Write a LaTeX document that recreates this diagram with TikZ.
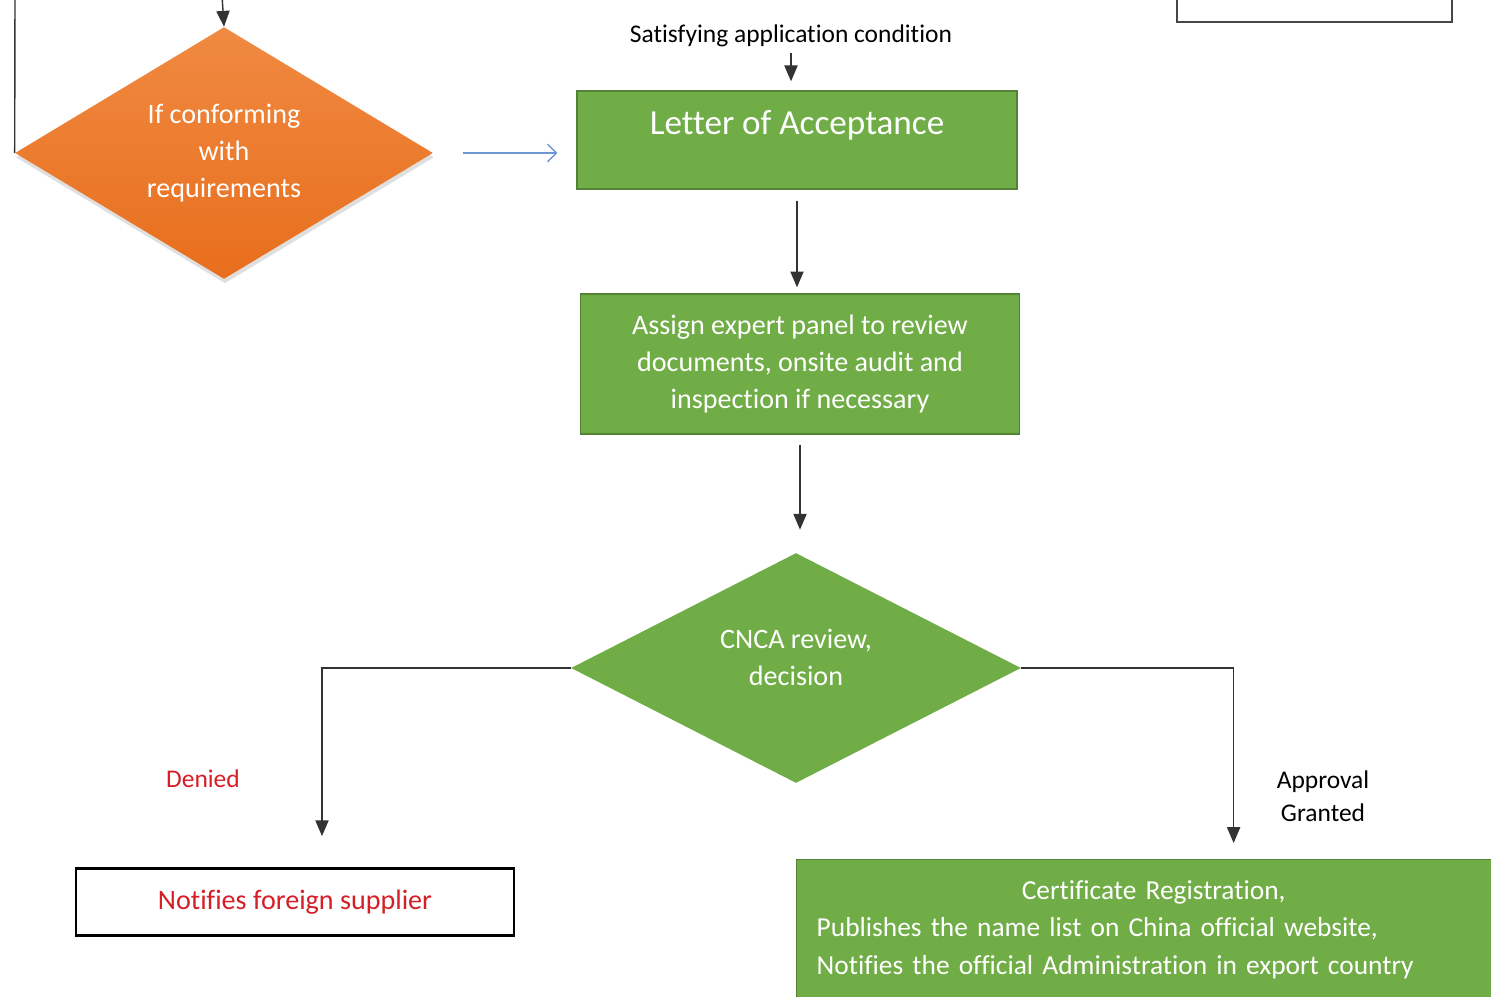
\documentclass[tikz,border=0pt]{standalone}
\usepackage{fontspec}
\setmainfont{Carlito}[Ligatures=NoCommon]
\usetikzlibrary{shapes.geometric,arrows.meta,shadows}
\definecolor{boxgreen}{RGB}{112,173,71}
\definecolor{boxedge}{RGB}{84,130,53}
\definecolor{condtop}{RGB}{240,138,66}
\definecolor{condbottom}{RGB}{232,110,28}
\definecolor{denyred}{RGB}{214,30,38}
\definecolor{flowblue}{RGB}{110,150,210}
\definecolor{edgegray}{RGB}{70,70,70}

\tikzset{
  stepbox/.style={rectangle, draw=boxedge, line width=0.8pt, fill=boxgreen, text=white, align=center, font=\fontsize{16}{21}\selectfont},
  choice/.style={diamond, inner sep=0pt, text=white, align=center, font=\fontsize{16}{21}\selectfont},
  note/.style={align=center, font=\fontsize{14.5}{19}\selectfont},
  arr/.style={draw=black!80, line width=0.8pt, -{Triangle[length=9pt,width=7.5pt]}},
}

\begin{document}
\begin{tikzpicture}[x=0.02cm, y=-0.02cm]
        \clip (0,0) rectangle (1491,997);

        \node[choice, minimum width=8.36cm, minimum height=4.94cm, top color=condtop, bottom color=condbottom,
              drop shadow={opacity=0.25, shadow xshift=0.5pt, shadow yshift=-2.5pt}] (cond) at (224,153) {If conforming\\with\\requirements};
        \node[stepbox, minimum width=8.8cm, minimum height=1.96cm, text depth=0.7cm, font=\fontsize{20}{24}\selectfont] (letter) at (797,140) {Letter of Acceptance};
        \node[stepbox, minimum width=8.78cm, minimum height=2.8cm] (assign) at (800,364) {Assign expert panel to review\\documents, onsite audit and\\inspection if necessary};
        \node[choice, fill=boxgreen, minimum width=9cm, minimum height=4.6cm, text depth=12pt] (cnca) at (796,668) {CNCA review,\\decision};
        \node[rectangle, draw=black, line width=1.6pt, fill=white, minimum width=8.76cm, minimum height=1.34cm, text=denyred, font=\fontsize{16}{21}\selectfont] (notify) at (295,902) {Notifies foreign supplier};
        \node[stepbox, anchor=north west, minimum height=2.8cm, text width=13.48cm, inner xsep=0.4cm, align=left, font=\fontsize{15.6}{21.3}\selectfont] (cert) at (796,859)
            {\makebox[\linewidth]{Certificate Registration,}\\Publishes the name list on China official website,\\Notifies the official Administration in export country};
        \node[rectangle, draw=edgegray, line width=1.4pt, minimum width=5.5cm, minimum height=2cm, anchor=south west] (prev) at (1176,23) {};

        \node[note] (sat) at (791,36) {Satisfying application condition};
        \node[note, text=denyred] (deny) at (203,779) {Denied};
        \node[note] (grant) at (1323,796) {Approval\\Granted};

        \coordinate (intop) at (222,-5);
        \coordinate (backtop) at (15,-5);

        % connectors
        \draw[arr] (intop) -- (cond.north);
        \draw[draw=black!80, line width=0.8pt] (backtop) -- (cond.west);
        \draw[flowblue, line width=0.8pt, -{Straight Barb[length=5pt,width=10pt]}, shorten <=0.6cm, shorten >=0.38cm] (cond.east) -- (cond.east -| letter.west);
        \draw[arr, shorten >=0.18cm] (sat.south) -- (sat.south |- letter.north);
        \draw[arr, shorten <=0.22cm, shorten >=0.12cm] (letter.south) -- (letter.south |- assign.north);
        \draw[arr, shorten <=0.2cm, shorten >=0.46cm] (assign.south) -- (assign.south |- cnca.north);
        \draw[arr, shorten >=0.62cm] (cnca.west) -| ([xshift=0.54cm]notify.north);
        \draw[arr, shorten >=0.32cm] (cnca.east) -| ([xshift=1.6cm]cert.north);
\end{tikzpicture}
\end{document}
